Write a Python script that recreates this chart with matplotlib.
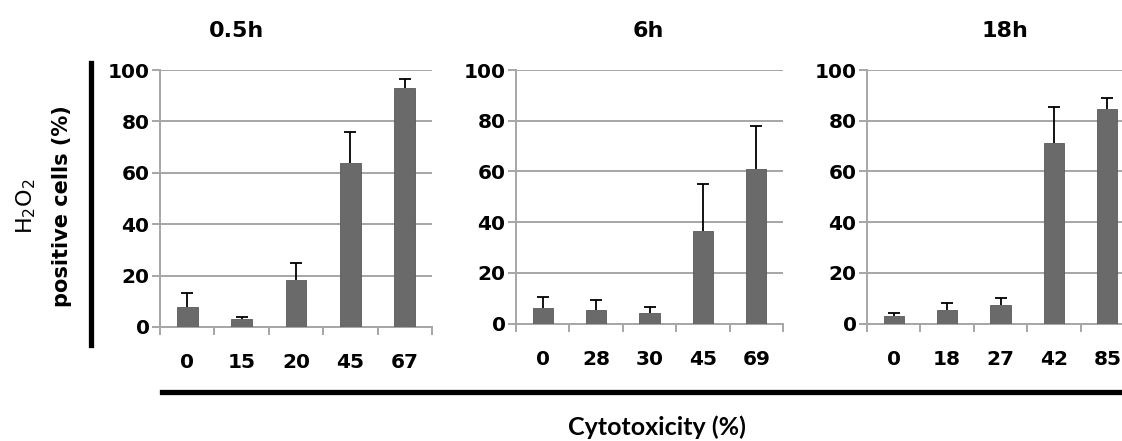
import numpy as np
import matplotlib
matplotlib.use('Agg')
import matplotlib.pyplot as plt
from matplotlib.lines import Line2D

# data
titles = ['0.5h', '6h', '18h']
cyto_labels = [['0', '15', '20', '45', '67'],
               ['0', '28', '30', '45', '69'],
               ['0', '18', '27', '42', '85']]
means_05h = [7.8, 3.2, 18.3, 64.0, 92.9]
err_05h = [5.4, 0.5, 6.6, 12.0, 3.5]
means_6h = [6.2, 5.5, 4.2, 36.6, 60.9]
err_6h = [4.1, 3.7, 2.4, 18.3, 17.1]
means_18h = [3.0, 5.5, 7.2, 71.3, 84.7]
err_18h = [1.2, 2.4, 2.7, 14.1, 4.2]

means = [means_05h, means_6h, means_18h]
errs = [err_05h, err_6h, err_18h]

W, H = 1122, 441
fig = plt.figure(figsize=(W / 100, H / 100), dpi=100)

# panel boxes in pixels: left, right, top, bottom
boxes = [(160, 432, 70, 327), (516, 783, 70, 323.5), (867, 1134, 70, 323.5)]
title_x = [237, 648, 1005]

grid_col = '#a6a6a6'
bar_col = '#6a6a6a'

for i in range(3):
    l, r, t, b = boxes[i]
    ax = fig.add_axes([l / W, 1 - b / H, (r - l) / W, (b - t) / H])
    x = np.arange(5)
    yerr = [np.zeros(5), errs[i]]
    ax.bar(x, means[i], width=0.38, color=bar_col, edgecolor='#5a5a5a', linewidth=0.6, zorder=3)
    eb = ax.errorbar(x, means[i], yerr=yerr, fmt='none', ecolor='black', elinewidth=1.3,
                     capsize=4.5, capthick=1.3, zorder=4)
    # only the upper cap, like the original
    eb.lines[1][0].set_visible(False)
    ax.set_xlim(-0.5, 4.5)
    ax.set_ylim(0, 100)
    ax.set_yticks([0, 20, 40, 60, 80, 100])
    ax.yaxis.grid(True, color=grid_col, linewidth=1.4, zorder=0)
    ax.set_xticks(x)
    ax.set_xticklabels(cyto_labels[i])
    ax.set_xticks(np.arange(-0.5, 5, 1), minor=True)
    ax.tick_params(axis='x', which='major', length=0, pad=19, labelsize=14.5)
    ax.tick_params(axis='x', which='minor', length=6, width=1.4, color=grid_col, direction='out')
    ax.tick_params(axis='y', length=5.5, width=1.4, color=grid_col, pad=2, labelsize=14.5)
    for lab in ax.get_xticklabels() + ax.get_yticklabels():
        lab.set_fontweight('bold')
    for s in ['top', 'right']:
        ax.spines[s].set_visible(False)
    for s in ['left', 'bottom']:
        ax.spines[s].set_color(grid_col)
        ax.spines[s].set_linewidth(1.4)
    fig.text(title_x[i] / W, 1 - 37 / H, titles[i], ha='center', va='baseline',
             fontsize=16, fontweight='bold')

# y label
fig.text(26 / W, 1 - 206 / H, 'H$_2$O$_2$', rotation=90, ha='center', va='center', fontsize=16)
fig.text(62 / W, 1 - 206 / H, 'positive cells (%)', rotation=90, ha='center', va='center',
         fontsize=15, fontweight='bold')

# thick black brackets
fig.add_artist(Line2D([91 / W, 91 / W], [1 - 63 / H, 1 - 345 / H], color='black', linewidth=3.8))
fig.add_artist(Line2D([162 / W, 1.0], [1 - 391.5 / H, 1 - 391.5 / H], color='black', linewidth=3.8))

fig.text(657 / W, 1 - 435 / H, 'Cytotoxicity (%)', ha='center', va='baseline',
         fontsize=18, fontweight='bold', family='Lato')

fig.savefig('out.png', dpi=100)
